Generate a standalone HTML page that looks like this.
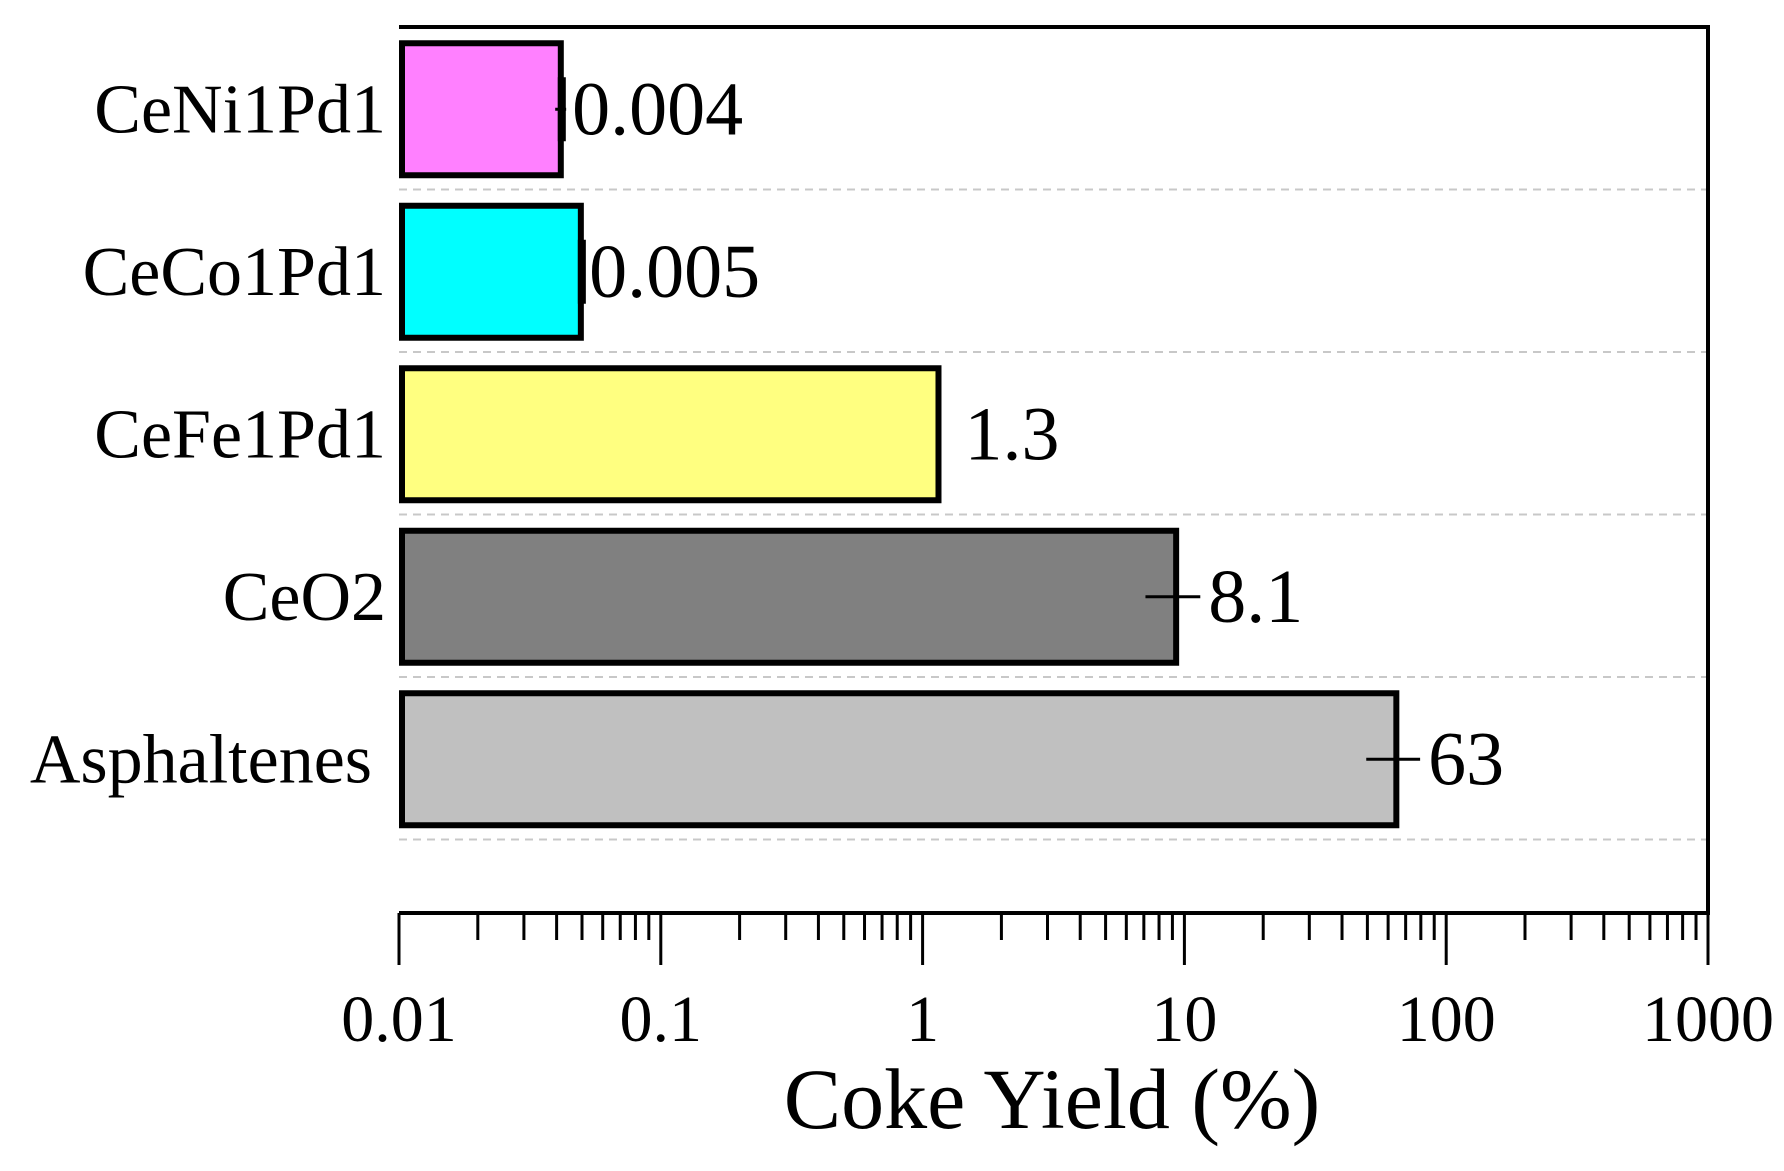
<!DOCTYPE html>
<html><head><meta charset="utf-8"><style>
html,body{margin:0;padding:0;background:#fff;}
svg{display:block;font-family:"Liberation Serif",serif;}
</style></head><body>
<svg id="chart" width="1784" height="1171" viewBox="0 0 1784 1171">
<g id="grid"></g>
<g id="bars"></g>
<g id="axis"></g>
<text x="1052" y="1128" font-size="86" text-anchor="middle">Coke Yield (%)</text>
</svg>
<script>
const categories = ["CeNi1Pd1","CeCo1Pd1","CeFe1Pd1","CeO2","Asphaltenes"];
const values = [0.0415, 0.0495, 1.15, 9.3, 64.5];
const errors = [0.002, 0.001, 0, 2.2, 15];
const valueLabels = ["0.004","0.005","1.3","8.1","63"];
const colors = ["#ff80ff","#00ffff","#ffff80","#808080","#c0c0c0"];
const tickValues = [0.01,0.1,1,10,100,1000];
const tickLabels = ["0.01","0.1","1","10","100","1000"];

const NS="http://www.w3.org/2000/svg";
const X0=399, X1=1708, TOP=27, AXY=913, BAND=162.5, BH=132;
const lmin=-2, lmax=3;
function xs(v){return X0+(Math.log10(v)-lmin)/(lmax-lmin)*(X1-X0);}
function yc(i){return TOP+BAND*(i+0.5)+1;}
function mk(tag,attrs,parent){const e=document.createElementNS(NS,tag);for(const k in attrs)e.setAttribute(k,attrs[k]);parent.appendChild(e);return e;}
const grid=document.getElementById('grid'), bars=document.getElementById('bars'), axis=document.getElementById('axis');

for(let i=1;i<=categories.length;i++){
  const y=TOP+BAND*i;
  const l=mk('line',{x1:X0,x2:X1,y1:y,y2:y,stroke:'#c8c8c8','stroke-width':2,'stroke-dasharray':'8,6'},grid);
  
  
}
categories.forEach((c,i)=>{
  const y=yc(i), xe=xs(values[i]);
  const r=mk('rect',{x:X0+3,y:y-BH/2,width:xe-X0-3,height:BH,fill:colors[i],stroke:'#000','stroke-width':6},bars);
  
  
  if(errors[i]>0){
    const xa=xs(Math.max(values[i]-errors[i],0.0001)), xb=xs(values[i]+errors[i]);
    const e=mk('line',{x1:xa,x2:xb,y1:y,y2:y,stroke:'#000','stroke-width':3},bars);
    
    
  }
  if(i<2){
    const e2=mk('line',{x1:xe+1,x2:xe+1,y1:y-32,y2:y+32,stroke:'#000','stroke-width':8},bars);
    
    
  }
  const xl=(errors[i]>0? xs(values[i]+errors[i]) : xe)+ (i<2?6:(errors[i]>0?8:26));
  const t=mk('text',{x:xl,y:y+25,'font-size':76},bars);t.textContent=valueLabels[i];
  
  
  const cl=mk('text',{x:i==4?372:386,y:y+23,'font-size':70,'text-anchor':'end'},bars);cl.textContent=c;
  
  
});
const fr=mk('path',{d:`M${X0} ${TOP} H${X1} V${AXY} H${X0}`,fill:'none',stroke:'#000','stroke-width':4},axis);


for(let d=lmin;d<lmax;d++){
  for(let m=2;m<=9;m++){
    const x=xs(m*Math.pow(10,d));
    const tk=mk('line',{x1:x,x2:x,y1:AXY,y2:AXY+27,stroke:'#000','stroke-width':3},axis);
    
    
  }
}
tickValues.forEach((v,i)=>{
  const x=xs(v);
  const tk=mk('line',{x1:x,x2:x,y1:AXY,y2:AXY+52,stroke:'#000','stroke-width':3},axis);
  
  
  const t=mk('text',{x:x,y:1041,'font-size':66,'text-anchor':'middle'},axis);t.textContent=tickLabels[i];
  
  
});
</script>
</body></html>
